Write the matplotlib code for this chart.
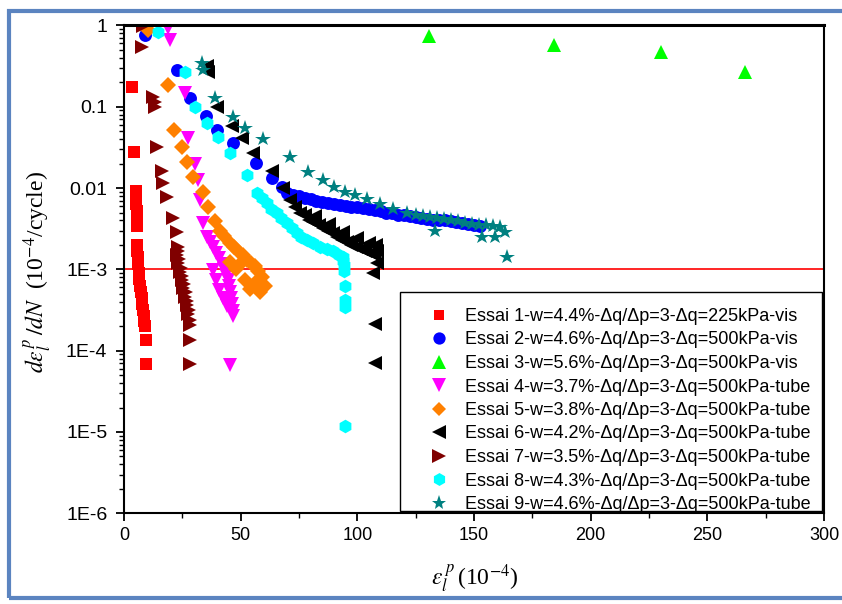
import matplotlib
matplotlib.use("Agg")
import matplotlib.pyplot as plt
from matplotlib.patches import Rectangle
from matplotlib.ticker import MultipleLocator, LogLocator, NullFormatter

# ---- data (x in 1e-4, y in 1e-4/cycle) ----
labels = [
    "Essai 1-w=4.4%-\u0394q/\u0394p=3-\u0394q=225kPa-vis",
    "Essai 2-w=4.6%-\u0394q/\u0394p=3-\u0394q=500kPa-vis",
    "Essai 3-w=5.6%-\u0394q/\u0394p=3-\u0394q=500kPa-vis",
    "Essai 4-w=3.7%-\u0394q/\u0394p=3-\u0394q=500kPa-tube",
    "Essai 5-w=3.8%-\u0394q/\u0394p=3-\u0394q=500kPa-tube",
    "Essai 6-w=4.2%-\u0394q/\u0394p=3-\u0394q=500kPa-tube",
    "Essai 7-w=3.5%-\u0394q/\u0394p=3-\u0394q=500kPa-tube",
    "Essai 8-w=4.3%-\u0394q/\u0394p=3-\u0394q=500kPa-tube",
    "Essai 9-w=4.6%-\u0394q/\u0394p=3-\u0394q=500kPa-tube",
]

x1 = [3.3, 4.4, 5.0, 5.2, 5.3, 5.4, 5.5, 5.6, 5.4, 5.6, 5.8, 6.0, 6.3, 6.6,
      6.9, 7.3, 7.6, 7.9, 8.2, 8.5, 8.7, 8.9, 9.4, 9.4]
y1 = [0.176, 0.028, 0.0092, 0.0078, 0.0064, 0.0052, 0.0042, 0.0034, 0.0020,
      0.0017, 0.0014, 0.00115, 9.0e-4, 7.6e-4, 6.3e-4, 5.3e-4, 4.5e-4, 3.8e-4,
      3.2e-4, 2.7e-4, 2.3e-4, 2.0e-4, 1.35e-4, 6.8e-5]

x2 = [9.0, 22.6, 28.3, 35.1, 39.7, 46.6, 56.6, 63.3, 67.6, 70, 72.5, 75, 77.5,
      80, 82.5, 85, 87.5, 90, 92.5, 95, 97.5, 100, 102.5, 105, 107.5, 110,
      112.5, 115, 117.5, 120, 122.5, 125, 127.5, 130, 132.5, 135, 137.5, 140,
      142.5, 145, 147.5, 150, 152.5]
y2 = [0.76, 0.28, 0.127, 0.076, 0.052, 0.0355, 0.0205, 0.0131, 0.0102, 0.0086,
      0.0082, 0.0079, 0.0076, 0.0073, 0.0070, 0.0068, 0.0066, 0.0064, 0.0062,
      0.0060, 0.0059, 0.0058, 0.0057, 0.0055, 0.0053, 0.0052, 0.0050, 0.0049,
      0.0047, 0.0046, 0.0045, 0.0044, 0.0043, 0.0042, 0.0041, 0.0040, 0.0040,
      0.0039, 0.0038, 0.0037, 0.0036, 0.0035, 0.0034]

x3 = [130.7, 184.3, 230.2, 266.0]
y3 = [0.74, 0.57, 0.47, 0.27]

x4 = [19.0, 19.7, 26.1, 27.6, 30.4, 31.9, 32.6, 34.0, 35.4, 36.9, 38.1, 39.4,
      40.7, 42.0, 42.9, 43.7, 44.6, 45.0, 45.4, 45.9, 46.3, 46.7, 46.7, 38.1,
      39.4, 40.7, 42.4, 44.1, 45.4]
y4 = [0.92, 0.66, 0.146, 0.041, 0.020, 0.0126, 0.0071, 0.0037, 0.0025, 0.0022,
      0.00188, 0.00158, 0.00138, 0.00117, 0.00102, 8.6e-4, 7.4e-4, 6.2e-4,
      5.2e-4, 4.4e-4, 3.7e-4, 3.1e-4, 2.7e-4, 9.8e-4, 7.4e-4, 5.6e-4, 4.4e-4,
      3.5e-4, 6.6e-5]

x5 = [10.4, 19.0, 21.4, 24.7, 26.9, 29.7, 34.0, 36.1, 39.0, 41.1, 43.0, 45.4,
      47.0, 49.0, 51.0, 52.6, 54.5, 56.1, 57.5, 59.0, 60.4, 58.3, 45.4, 48.0,
      50.0, 51.9, 54.0, 56.0]
y5 = [0.88, 0.185, 0.052, 0.032, 0.021, 0.0138, 0.009, 0.0059, 0.0039, 0.0030,
      0.0026, 0.0021, 0.0019, 0.00166, 0.0015, 0.0013, 0.0012, 0.00109, 9.5e-4,
      8.1e-4, 6.2e-4, 5.3e-4, 0.00122, 0.0010, 0.0012, 7.4e-4, 5.8e-4, 6.8e-4]

x6 = [35.4, 36.0, 39.7, 46.1, 50.4, 55.4, 63.3, 68.3, 71.1, 73.5, 75.4, 77.5,
      79.5, 81.1, 83.5, 85.5, 87.5, 89.5, 91.5, 93.5, 95.5, 97.5, 99.5, 101.5,
      103.5, 105.5, 107.0, 108.3, 108.3, 108.0, 82.0, 88.0, 94.0, 100.0, 105.0,
      106.9, 107.6, 107.6]
y6 = [0.32, 0.27, 0.10, 0.058, 0.041, 0.027, 0.016, 0.0099, 0.0071, 0.0058,
      0.0050, 0.0046, 0.0041, 0.0038, 0.0035, 0.0032, 0.0030, 0.0028, 0.0025,
      0.0023, 0.0022, 0.0020, 0.0019, 0.0018, 0.0017, 0.0016, 0.0015, 0.0012,
      0.0017, 0.0020, 0.0045, 0.0036, 0.0029, 0.0024, 0.0021, 8.9e-4, 2.1e-4,
      7.0e-5]

x7 = [8.1, 7.7, 12.5, 13.3, 13.3, 14.0, 16.2, 16.8, 18.6, 20.9, 22.6, 23.3,
      23.0, 22.6, 23.6, 23.3, 24.3, 24.0, 25.0, 24.7, 25.7, 25.4, 26.4, 26.1,
      27.2, 26.9, 27.9, 27.6, 28.5, 28.3, 28.3, 28.3]
y7 = [0.98, 0.54, 0.13, 0.115, 0.10, 0.032, 0.016, 0.0114, 0.0078, 0.0043,
      0.0029, 0.0019, 0.0017, 0.0015, 0.00135, 0.00119, 0.00105, 9.3e-4,
      8.3e-4, 7.4e-4, 6.6e-4, 5.9e-4, 5.2e-4, 4.6e-4, 4.1e-4, 3.6e-4, 3.2e-4,
      2.8e-4, 2.4e-4, 2.07e-4, 1.35e-4, 6.8e-5]

x8 = [14.7, 26.1, 30.4, 35.7, 40.4, 45.4, 52.6, 56.9, 59.0, 61.1, 63.2, 65.4,
      67.5, 69.7, 71.8, 74.0, 76.0, 78.3, 81.0, 84.0, 87.0, 89.7, 92.0, 94.0,
      94.0, 94.3, 94.3, 94.7, 94.7, 94.7, 94.7]
y8 = [0.84, 0.27, 0.10, 0.063, 0.042, 0.027, 0.0145, 0.0086, 0.0075, 0.0065,
      0.0056, 0.0049, 0.0043, 0.0037, 0.0032, 0.0028, 0.0025, 0.0023, 0.0021,
      0.0019, 0.0018, 0.00166, 0.0015, 0.00143, 0.00125, 0.00113, 9.5e-4,
      6.2e-4, 4.2e-4, 3.4e-4, 1.2e-5]

x9 = [33.3, 33.9, 39.0, 46.6, 51.9, 59.7, 71.1, 79.0, 85.2, 90.0, 94.7, 99.0,
      104.0, 109.7, 115.4, 121.2, 125, 128, 131, 134, 137, 140, 143, 146, 149,
      152, 155, 158, 161, 163.3, 133.3, 153.3, 159.0, 164.0]
y9 = [0.34, 0.28, 0.127, 0.075, 0.054, 0.040, 0.0243, 0.0159, 0.0126, 0.0104,
      0.0090, 0.0082, 0.0073, 0.0063, 0.0055, 0.0049, 0.0047, 0.0045, 0.0044,
      0.0043, 0.0042, 0.0041, 0.0039, 0.0037, 0.0036, 0.0035, 0.0035, 0.0034,
      0.0033, 0.0029, 0.0030, 0.0025, 0.0025, 0.00143]

xs = [x1, x2, x3, x4, x5, x6, x7, x8, x9]
ys = [y1, y2, y3, y4, y5, y6, y7, y8, y9]
colors = ["#ff0000", "#0000ff", "#00ff00", "#ff00ff", "#ff8000", "#000000",
          "#800000", "#00ffff", "#008080"]
markers = ["s", "o", "^", "v", "D", "<", ">", "h", "*"]
sizes = [8.3, 9.3, 10.5, 10.5, 8.0, 10.5, 10.5, 9.8, 11.5]

ytick_vals = [1, 0.1, 0.01, 1e-3, 1e-4, 1e-5, 1e-6]
ytick_labels = ["1", "0.1", "0.01", "1E-3", "1E-4", "1E-5", "1E-6"]
xtick_vals = [0, 50, 100, 150, 200, 250, 300]

plt.rcParams["font.family"] = ["Liberation Sans", "DejaVu Sans"]
plt.rcParams["mathtext.fontset"] = "stix"

fig = plt.figure(figsize=(8.42, 6.04), dpi=100)
ax = fig.add_axes([124 / 842, 1 - 513.3 / 604, 700 / 842, 487.9 / 604])

handles = []
for x, y, c, m, s, lab in zip(xs, ys, colors, markers, sizes, labels):
    h, = ax.plot(x, y, linestyle="none", marker=m, color=c, markersize=s,
                 markeredgewidth=0, label=lab)
    handles.append(h)

ax.axhline(1e-3, color="red", lw=1.2, zorder=1)

ax.set_yscale("log")
ax.set_xlim(0, 300)
ax.set_ylim(1e-6, 1)
ax.set_xticks(xtick_vals)
ax.set_xticklabels([str(v) for v in xtick_vals], fontsize=13)
ax.set_yticks(ytick_vals)
ax.set_yticklabels(ytick_labels, fontsize=14)
ax.xaxis.set_minor_locator(MultipleLocator(25))
ax.yaxis.set_minor_locator(LogLocator(base=10, subs=range(2, 10), numticks=20))
ax.yaxis.set_minor_formatter(NullFormatter())
ax.tick_params(which="major", direction="out", length=6, width=1.3)
ax.tick_params(axis="y", which="major", pad=6)
ax.tick_params(axis="x", which="major", pad=4)
ax.tick_params(which="minor", direction="out", length=3.5, width=1.0)
for sp in ax.spines.values():
    sp.set_linewidth(1.5)
ax.spines["top"].set_linewidth(2.2)

fig.text(38 / 842, 1 - 272 / 604,
         r"$d\varepsilon_l^{\,p}\,/dN$  (10$^{-4}$/cycle)",
         rotation=90, ha="center", va="center", fontsize=17,
         family="Liberation Serif")
fig.text(475 / 842, 1 - 579 / 604, r"$\varepsilon_l^{\,p}\,$(10$^{-4}$)",
         ha="center", va="center", fontsize=17, family="Liberation Serif")

# legend frame drawn separately so it can sit exactly where the reference has it
ax.add_patch(Rectangle(((400 - 124) / 700, (513.3 - 511) / 487.9),
                       422 / 700, 219 / 487.9, transform=ax.transAxes,
                       facecolor="white", edgecolor="black", lw=1.0, zorder=5))
leg = ax.legend(handles=handles, loc="upper left",
                bbox_to_anchor=((421 - 124) / 700, (513.3 - 308) / 487.9),
                frameon=False, fontsize=13, borderpad=0, borderaxespad=0,
                handlelength=2.0, handletextpad=0.45, labelspacing=0.36,
                numpoints=1, markerscale=0.95)
leg.set_zorder(6)

# blue outer frame of the picture
fig.patches.append(Rectangle((9 / 842, 6 / 604), 840 / 842, 587 / 604,
                             transform=fig.transFigure, fill=False,
                             edgecolor="#5b84c0", lw=3))

fig.savefig("out.png", dpi=100)
